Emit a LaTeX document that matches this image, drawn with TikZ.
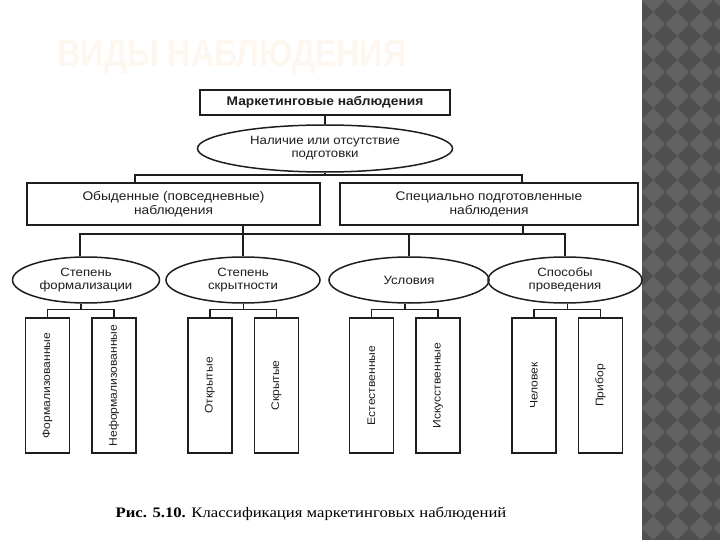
\documentclass[tikz,border=0pt]{standalone}
\usepackage{fontspec}
\setmainfont{Liberation Sans}
\newfontfamily\diagfont[FakeStretch=1.1]{Liberation Sans}
\newfontfamily\titlefont[FakeStretch=0.85]{Liberation Sans}
\newfontfamily\capfont[FakeStretch=1.15]{Liberation Serif}
\usepackage{xcolor}
\definecolor{inkGray}{HTML}{1E1E1E}
\definecolor{titleCream}{HTML}{FEF7EF}
\definecolor{stripDark}{HTML}{4F4F4F}
\definecolor{stripLight}{HTML}{626262}
\usepackage{tikz}
\usetikzlibrary{
    shapes.geometric,
    positioning,
    calc
}
\tikzset{
    % Base style for all diagram nodes
    scan base/.style={
        font=\diagfont\fontsize{12}{13}\selectfont,
        align=center,
        text=inkGray,
        draw=inkGray,
        line width=1.5pt,
        inner sep=0pt,
    },
    % Header box - bold text
    headbox/.style={
        scan base,
        rectangle,
        font=\diagfont\bfseries\fontsize{12.5}{14}\selectfont,
        minimum width=250pt,
        minimum height=25pt,
    },
    % Group boxes - wide rectangles
    groupbox/.style={
        scan base,
        rectangle,
        font=\diagfont\fontsize{12.5}{14}\selectfont,
        minimum height=42pt,
    },
    % Criterion ellipses
    criterion/.style={
        scan base,
        ellipse,
        minimum height=46pt,
    },
    % Leaf boxes - tall, text turned upwards
    leafbox/.style={
        scan base,
        rectangle,
        font=\diagfont\fontsize{11}{12}\selectfont,
        minimum width=44pt,
        minimum height=135pt,
    },
    % Plain connector lines
    link/.style={
        draw=inkGray,
        line width=1.5pt,
    },
}

\begin{document}
\begin{tikzpicture}[x=1pt, y=-1pt]
    \useasboundingbox (0,0) rectangle (720,540);
    \fill[white] (0,0) rectangle (720,540);

    % patterned strip on the right
    \begin{scope}
        \clip (642,0) rectangle (720,540);
        \fill[stripLight] (642,0) rectangle (720,540);
        \foreach \i in {0,...,3}
            \foreach \j in {0,...,23}
                \fill[stripDark] (629+24*\i,12+24*\j) -- ++(12,-12) -- ++(12,12) -- ++(-12,12) -- cycle;
    \end{scope}

    \node (title) [font=\titlefont\bfseries\fontsize{38}{40}\selectfont, text=titleCream] at (232,57) {ВИДЫ НАБЛЮДЕНИЯ};

    \node (market) [headbox] at (325,102.5) {Маркетинговые наблюдения};
    \node (prep) [criterion, minimum width=255pt, minimum height=47pt] at (325,148.5) {Наличие или отсутствие\\подготовки};
    \node (ordinary) [groupbox, minimum width=293pt] at (173.5,204) {Обыденные (повседневные)\\наблюдения};
    \node (special) [groupbox, minimum width=298pt] at (489,204) {Специально подготовленные\\наблюдения};

    \node (formal) [criterion, minimum width=147pt] at (86,280) {Степень\\формализации};
    \node (secrecy) [criterion, minimum width=154pt] at (243,280) {Степень\\скрытности};
    \node (conditions) [criterion, minimum width=160pt] at (409,280) {Условия};
    \node (methods) [criterion, minimum width=154pt] at (565,280) {Способы\\проведения};

    \node (formalized) [leafbox] at (47.5,385.5) {\rotatebox{90}{Формализованные}};
    \node (informal) [leafbox, right=21pt of formalized] {\rotatebox{90}{Неформализованные}};
    \node (open) [leafbox] at (210,385.5) {\rotatebox{90}{Открытые}};
    \node (hidden) [leafbox, right=21pt of open] {\rotatebox{90}{Скрытые}};
    \node (natural) [leafbox] at (371.5,385.5) {\rotatebox{90}{Естественные}};
    \node (artificial) [leafbox, right=21pt of natural] {\rotatebox{90}{Искусственные}};
    \node (human) [leafbox] at (534,385.5) {\rotatebox{90}{Человек}};
    \node (device) [leafbox, right=21pt of human] {\rotatebox{90}{Прибор}};

    \node (caption) [font=\capfont\fontsize{14.5}{16}\selectfont, text=black] at (311,514) {\textbf{Рис. 5.10.} Классификация маркетинговых наблюдений};

    % upper bus
    \coordinate (busTopL) at (135,175);
    \coordinate (busTopR) at (522,175);
    \draw [link] (market) -- (prep);
    \draw [link] (prep.south) -- (prep.south |- busTopL);
    \draw [link] (busTopL |- ordinary.north) -- (busTopL) -- (busTopR) -- (busTopR |- special.north);

    % middle bus
    \coordinate (busMidL) at (80,234);
    \coordinate (busMidR) at (565,234);
    \coordinate (dropS) at (523,234);
    \draw [link] (busMidL |- formal.north) -- (busMidL) -- (busMidR) -- (methods.north);
    \draw [link] (secrecy.north |- ordinary.south) -- (secrecy.north);
    \draw [link] (conditions.north |- busMidL) -- (conditions.north);
    \draw [link] (dropS |- special.south) -- (dropS);

    % forks down to the leaves
    \coordinate (forkA) at ($(formalized.north)!0.5!(informal.north) + (0,-8)$);
    \coordinate (forkB) at ($(open.north)!0.5!(hidden.north) + (0,-8)$);
    \coordinate (forkC) at ($(natural.north)!0.5!(artificial.north) + (0,-8)$);
    \coordinate (forkD) at ($(human.north)!0.5!(device.north) + (0,-8)$);
    \draw [link] (formal.south -| forkA) -- (forkA);
    \draw [link] (formalized.north) |- (forkA) -| (informal.north);
    \draw [link] (secrecy.south -| forkB) -- (forkB);
    \draw [link] (open.north) |- (forkB) -| (hidden.north);
    \draw [link] (conditions.south -| forkC) -- (forkC);
    \draw [link] (natural.north) |- (forkC) -| (artificial.north);
    \draw [link] (methods.south -| forkD) -- (forkD);
    \draw [link] (human.north) |- (forkD) -| (device.north);
\end{tikzpicture}
\end{document}
